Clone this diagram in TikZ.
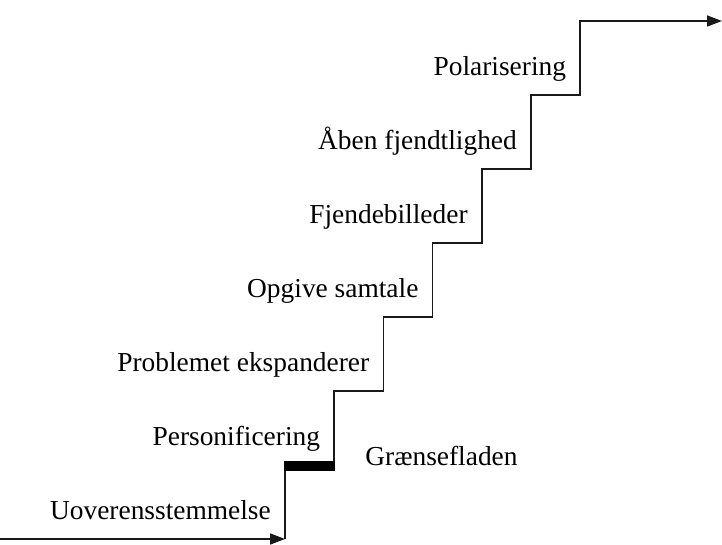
\documentclass[tikz,border=0pt]{standalone}
\usepackage{fontspec}
\setmainfont{Liberation Serif}
\usetikzlibrary{arrows.meta}
\tikzset{
  stair/.style={line width=1.7pt, line join=miter, draw=black!90},
  stairtip/.style={-{Triangle[length=15pt,width=11pt]}},
  steplabel/.style={anchor=base east, inner sep=0pt, font=\fontsize{27.4}{32}\selectfont},
  borderlabel/.style={anchor=base west, inner sep=0pt, font=\fontsize{27.4}{32}\selectfont}
}
\begin{document}
\begin{tikzpicture}[x=1pt,y=-1pt]
  \useasboundingbox (0,0) rectangle (722,545);
  \foreach \i in {0,...,6}
    \coordinate (S\i) at ({285+49.2*\i},{539-74*\i});
  \coordinate (Start) at (0,539);
  \coordinate (End) at (722,21);
  % trappen
  \draw[stair,stairtip] (Start) -- (S0);
  \draw[stair,stairtip] (S0) |- (S1) |- (S2) |- (S3) |- (S4) |- (S5) |- (S6) |- (End);
  \draw[line width=10pt] ([xshift=-0.8pt,yshift=-1pt]S0 |- S1) -- ([xshift=0.8pt,yshift=-1pt]S1);
  % trin
  \foreach \i/\txt in {0/Uoverensstemmelse, 1/Personificering,
      2/Problemet ekspanderer, 3/Opgive samtale, 4/Fjendebilleder,
      5/Åben fjendtlighed, 6/Polarisering}
    \node[steplabel] (L\i) at ([xshift=-14pt,yshift=19.5pt]S\i) {\txt};
  \node[borderlabel] (Border) at ([xshift=31pt]S1) {Grænsefladen};
\end{tikzpicture}
\end{document}
